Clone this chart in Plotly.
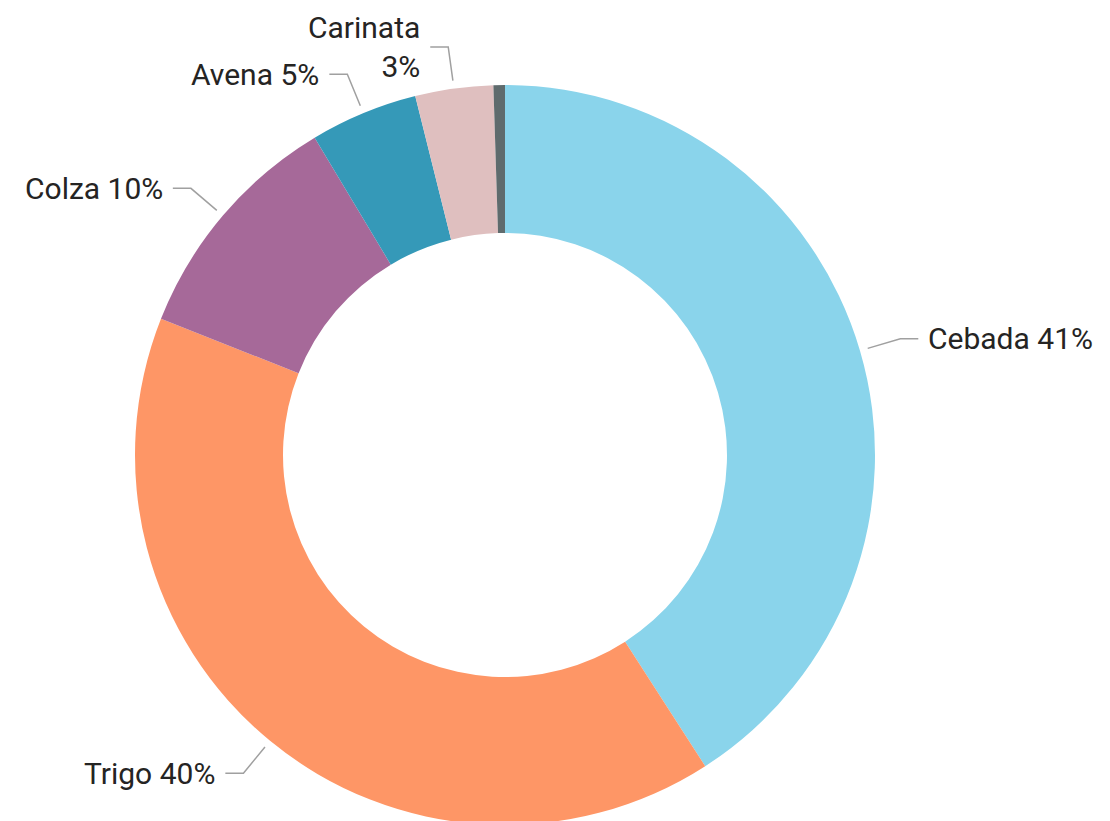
import math
import plotly.graph_objects as go

# ---- data ----
labels = ["Cebada", "Trigo", "Colza", "Avena", "Carinata", "Otros"]
values = [40.9, 40.1, 10.4, 4.7, 3.4, 0.5]
label_text = ["Cebada 41%", "Trigo 40%", "Colza 10%", "Avena 5%", "Carinata<br>3%", ""]
colors = ["#8AD4EB", "#FE9666", "#A66999", "#3599B8", "#DFBFBF", "#5F6B6D"]

# ---- layout constants (pixels, in figure coordinates; page body adds 8px offset) ----
W, H = 1110, 821
PAGE_OFF = 8
CX, CY, R = 505 - PAGE_OFF, 455 - PAGE_OFF, 370
HOLE = 0.6

fig = go.Figure()
fig.add_trace(go.Pie(
    labels=labels, values=values, hole=HOLE, sort=False,
    direction="clockwise", rotation=0,
    marker=dict(colors=colors, line=dict(width=0)),
    textinfo="none", showlegend=False,
    domain=dict(x=[(CX - R) / W, (CX + R) / W], y=[1 - (CY + R) / H, 1 - (CY - R) / H]),
))

total = sum(values)
cum = 0.0
shapes, annotations = [], []
for lab, v, txt in zip(labels, values, label_text):
    mid = (cum + v / 2) / total * 2 * math.pi
    cum += v
    if not txt:
        continue
    ux, uy = math.sin(mid), -math.cos(mid)
    p1 = (CX + (R + 8) * ux, CY + (R + 8) * uy)
    p2 = (CX + (R + 42) * ux, CY + (R + 42) * uy)
    side = 1 if ux >= 0 else -1
    p3 = (p2[0] + side * 18, p2[1])
    path = "M {:.4f},{:.4f} L {:.4f},{:.4f} L {:.4f},{:.4f}".format(
        p1[0] / W, 1 - p1[1] / H, p2[0] / W, 1 - p2[1] / H, p3[0] / W, 1 - p3[1] / H)
    shapes.append(dict(type="path", path=path, xref="paper", yref="paper",
                       line=dict(color="#A0A0A0", width=1.5)))
    annotations.append(dict(
        x=(p3[0] + side * 8) / W, y=1 - p3[1] / H, xref="paper", yref="paper",
        text=txt, showarrow=False, xanchor="left" if side > 0 else "right",
        yanchor="middle", align="right" if side < 0 else "left",
        font=dict(family="Roboto", size=30, color="#252423"),
    ))

fig.update_layout(
    width=W, height=H, margin=dict(l=0, r=0, t=0, b=0),
    paper_bgcolor="white", plot_bgcolor="white",
    shapes=shapes, annotations=annotations,
)
fig.write_html("out.html")
